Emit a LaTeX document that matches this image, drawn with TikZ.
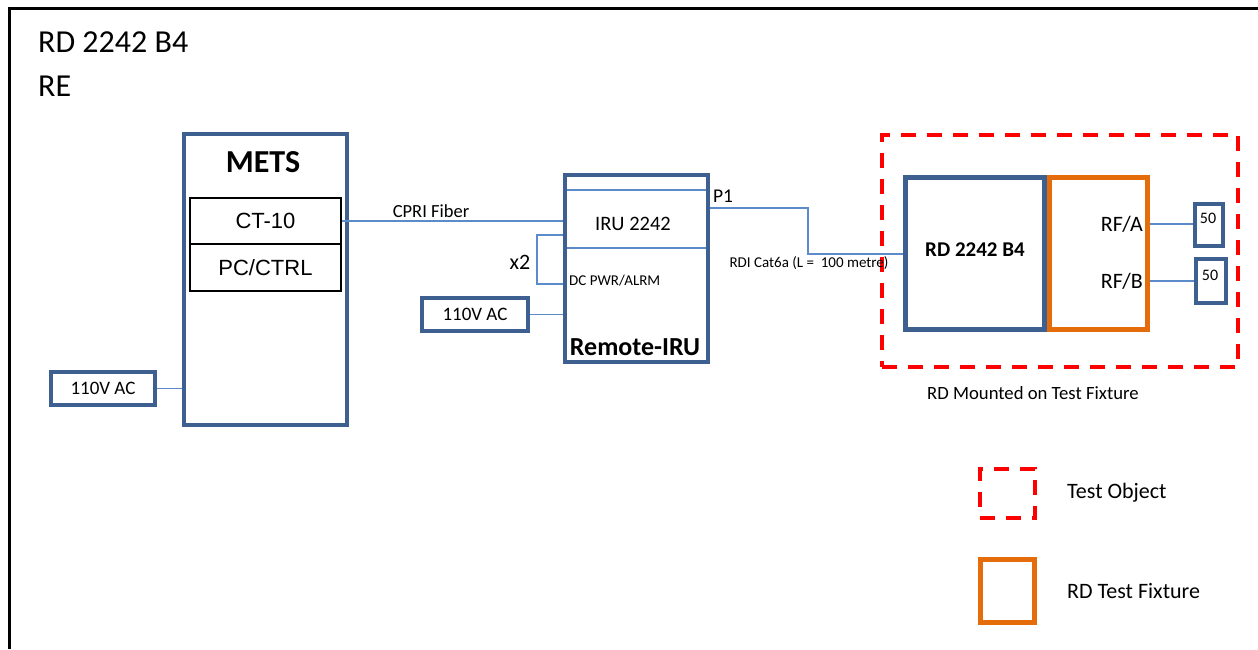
\documentclass[tikz,border=0pt]{standalone}
\usepackage{fontspec}
\setmainfont{Carlito}
\newfontfamily\arialfont{Liberation Sans}
\definecolor{boxblue}{HTML}{3E6090}
\definecolor{lineblue}{HTML}{5B8BCB}
\definecolor{fixorange}{HTML}{E46C0A}
\newcommand{\fsz}[1]{\fontsize{#1}{#1}\selectfont}
\begin{document}
\begin{tikzpicture}[x=1pt,y=-1pt,
  bbox/.style={draw=boxblue, line width=4pt, fill=white, inner sep=0pt},
  sbox/.style={draw=boxblue, line width=3.5pt, fill=white, inner sep=0pt},
  thinbox/.style={draw=black, line width=1.2pt, inner sep=0pt},
  conn/.style={draw=lineblue, line width=1.3pt},
  lbl/.style={inner sep=0pt},
  redbox/.style={draw=red, line width=4pt, dash pattern=on 15pt off 11pt},
  orbox/.style={draw=fixorange, line width=5pt, inner sep=0pt},
  rdbox/.style={draw=boxblue, line width=5pt, inner sep=0pt}]
\useasboundingbox (0,0) rectangle (1258,649);
% frame
\draw[line width=3pt] (9,649) -- (9,8) -- (1258,8);
% title
\node[lbl, anchor=west] (t1) at (38,42) {\fsz{32}RD 2242 B4};
\node[lbl, anchor=west] (t2) at (38,86) {\fsz{32}RE};
% METS
\node[bbox, minimum width=163pt, minimum height=291pt] (mets) at (265.5,279.5) {};
\node[lbl] (metsl) at (263,162) {\fsz{32}\bfseries METS};
\node[thinbox, minimum width=151pt, minimum height=46pt] (ct10) at (265.5,221) {\arialfont\fsz{22}CT-10};
\node[thinbox, minimum width=151pt, minimum height=47pt] (pcctrl) at (265.5,267.5) {\arialfont\fsz{22}PC/CTRL};
% left AC
\node[sbox, minimum width=104pt, minimum height=33pt] (acl) at (103,388.5) {\fsz{19}110V AC};
\draw[conn] (acl.east) -- (acl.east -| mets.west);
% Remote IRU
\node[bbox, minimum width=143pt, minimum height=187pt] (iru) at (636.5,268.5) {};
\coordinate (l1a) at (567,190); \coordinate (l1b) at (706,190);
\coordinate (l2a) at (567,248); \coordinate (l2b) at (706,248);
\draw[conn] (l1a) -- (l1b);
\draw[conn] (l2a) -- (l2b);
\node[lbl] (irul) at (633,224) {\fsz{20.5}IRU 2242};
\node[lbl, anchor=west] (dcl) at (569,281) {\fsz{15}DC PWR/ALRM};
\node[lbl] (reml) at (635,347) {\fsz{26}\bfseries Remote-IRU};
% CPRI
\draw[conn] (ct10.east) -- (ct10.east -| iru.west);
\node[lbl] (cpril) at (431,211) {\fsz{18.5}CPRI Fiber};
% x2 bracket
\coordinate (x2t) at (537,235);
\coordinate (x2b) at (537,284);
\draw[conn] (x2t -| iru.west) -- (x2t) -- (x2b) -- (x2b -| iru.west);
\node[lbl] (x2l) at (520,262) {\fsz{22}x2};
% middle AC
\node[sbox, minimum width=106pt, minimum height=33pt] (acm) at (475,314.5) {\fsz{19}110V AC};
\draw[conn] (acm.east) -- (acm.east -| iru.west);
% test object dashed
\node[redbox, minimum width=356pt, minimum height=232pt] (tobj) at (1060,251) {};
\node[lbl] (tobjl) at (1033,393) {\fsz{18.7}RD Mounted on Test Fixture};
% RD and fixture
\node[rdbox, minimum width=139pt, minimum height=152pt] (rd) at (975,253.5) {};
\node[lbl] (rdl) at (975,250) {\fsz{21}\bfseries RD 2242 B4};
\node[orbox, minimum width=98pt, minimum height=152pt] (fix) at (1098.5,253.5) {};
\node[lbl, anchor=east] (rfa) at (1143,224) {\fsz{22}RF/A};
\node[lbl, anchor=east] (rfb) at (1143,281) {\fsz{22}RF/B};
\node[sbox, minimum width=28pt, minimum height=42pt] (t50a) at (1209,225) {};
\node[sbox, minimum width=30pt, minimum height=44pt] (t50b) at (1211,281) {};
\node[lbl] (t50al) at (1208,218) {\fsz{16}50};
\node[lbl] (t50bl) at (1210,275) {\fsz{16}50};
\draw[conn] (rfa.east -| fix.east) -- (rfa.east -| t50a.west);
\draw[conn] (rfb.east -| fix.east) -- (rfb.east -| t50b.west);
% P1 / RDI
\coordinate (p1a) at (808,208);
\coordinate (p1b) at (808,254);
\draw[conn] (p1a -| iru.east) -- (p1a) -- (p1b) -- (p1b -| rd.west);
\node[lbl] (p1l) at (723,196) {\fsz{19.5}P1};
\node[lbl] (rdil) at (809,263) {\fsz{15}RDI Cat6a (L =\ \ 100 metre)};
% legend
\node[redbox, minimum width=55pt, minimum height=49pt] (leg1) at (1007.5,493.5) {};
\node[lbl, anchor=west] (leg1l) at (1067,493) {\fsz{22}Test Object};
\node[orbox, minimum width=54pt, minimum height=63pt] (leg2) at (1007.5,591) {};
\node[lbl, anchor=west] (leg2l) at (1067,591) {\fsz{22}RD Test Fixture};
\end{tikzpicture}
\end{document}
